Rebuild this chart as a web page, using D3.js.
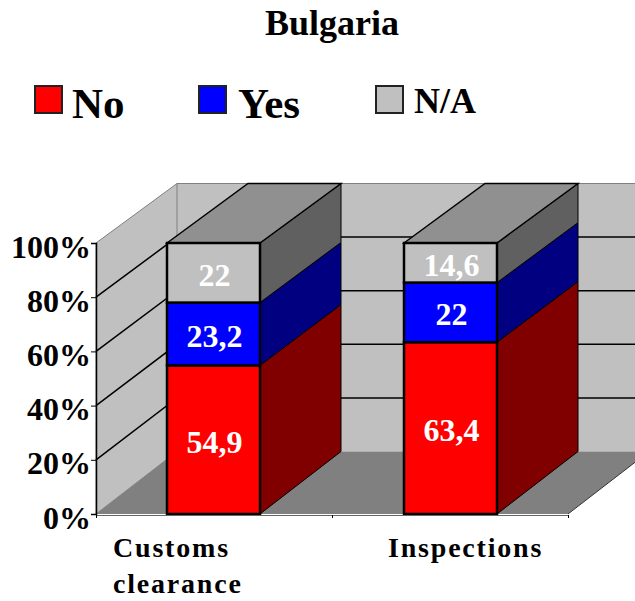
<!DOCTYPE html>
<html>
<head>
<meta charset="utf-8">
<script src="https://cdn.jsdelivr.net/npm/d3@7"></script>
<style>
  body { margin: 0; background: #fff; }
  svg { display: block; }
  text { font-family: "Liberation Serif", serif; font-weight: bold; }
</style>
</head>
<body>
<div id="chart"></div>
<script>
"use strict";

const categories = [["Customs", "clearance"], ["Inspections"]]
const seriesNames = ["No", "Yes", "N/A"]
const noValues = [54.9, 63.4]
const yesValues = [23.2, 22]
const naValues = [22, 14.6]
const yTicks = [0, 20, 40, 60, 80, 100]

const frontColors = ["#ff0000", "#0000ff", "#c0c0c0"]
const sideColors = ["#800000", "#000080", "#606060"]

const width = 635, height = 601

// 3D look: the back wall is shifted up and right from the front plane
const depthX = 81

const svg = d3.select("#chart").append("svg")
  .attr("width", width)
  .attr("height", height)

let xBand = d3.scaleBand().domain(d3.range(categories.length)).range([95, 569])
let barWidth = 93
let yFront = d3.scaleLinear().domain([0, 100]).range([514, 243])
let yBack = d3.scaleLinear().domain([0, 100]).range([451.5, 183.5])

let plotLeft = 96, plotRight = 568
let poly = pts => pts.map(p => p.join(",")).join(" ")

// walls and floor
svg.append("polygon")
  .attr("points", poly([[plotLeft + depthX, yBack(100)], [plotRight + depthX, yBack(100)], [plotRight + depthX, yBack(0)], [plotLeft + depthX, yBack(0)]]))
  .attr("fill", "#c0c0c0")
svg.append("polygon")
  .attr("points", poly([[plotLeft, yFront(100)], [plotLeft + depthX, yBack(100)], [plotLeft + depthX, yBack(0)], [plotLeft, yFront(0)]]))
  .attr("fill", "#c0c0c0")
  .attr("stroke", "#808080")
svg.append("line")
  .attr("x1", plotLeft + depthX).attr("x2", plotRight + depthX)
  .attr("y1", yBack(100)).attr("y2", yBack(100))
  .attr("stroke", "#808080")

// gridlines, left wall then back wall
yTicks.filter(t => t > 0 && t < 100).forEach(t => {
  svg.append("polyline")
    .attr("points", poly([[plotLeft, yFront(t)], [plotLeft + depthX, yBack(t)], [plotRight + depthX, yBack(t)]]))
    .attr("fill", "none")
    .attr("stroke", "#000")
    .attr("stroke-width", 1.5)
})

svg.append("polygon")
  .attr("points", poly([[plotLeft, yFront(0)], [plotLeft + depthX, yBack(0)], [plotRight + depthX, yBack(0)], [plotRight, yFront(0)]]))
  .attr("fill", "#808080")
svg.append("line")
  .attr("x1", plotRight).attr("x2", plotRight + depthX)
  .attr("y1", yFront(0)).attr("y2", yBack(0))
  .attr("stroke", "#333")

// stacked bars
let stacks = categories.map((c, i) => {
  let parts = [noValues[i], yesValues[i], naValues[i]]
  let total = d3.sum(parts)
  let y0 = 0
  // the reference columns are 100% stacked, so rescale the rounded values
  return parts.map((v, s) => {
    let seg = {cat: i, s: s, v: v, y0: y0 / total * 100, y1: (y0 + v) / total * 100}
    y0 += v
    return seg
  })
})

stacks.forEach(segs => {
  let left = xBand(segs[0].cat) + (xBand.bandwidth() - barWidth) / 2
  let right = left + barWidth
  let bar = svg.append("g").attr("class", "bar")

  bar.selectAll(".side").data(segs).enter().append("polygon")
    .attr("class", "side")
    .attr("points", d => poly([[right, yFront(d.y0)], [right + depthX, yBack(d.y0)], [right + depthX, yBack(d.y1)], [right, yFront(d.y1)]]))
    .attr("fill", d => sideColors[d.s])
    .attr("stroke", "#000")
    .attr("stroke-width", 1)

  bar.append("polygon")
    .attr("points", poly([[left, yFront(100)], [left + depthX, yBack(100)], [right + depthX, yBack(100)], [right, yFront(100)]]))
    .attr("fill", "#909090")
    .attr("stroke", "#000")
    .attr("stroke-width", 1.5)

  bar.selectAll(".front").data(segs).enter().append("rect")
    .attr("class", "front")
    .attr("x", left)
    .attr("width", barWidth)
    .attr("y", d => yFront(d.y1))
    .attr("height", d => yFront(d.y0) - yFront(d.y1))
    .attr("fill", d => frontColors[d.s])
    .attr("stroke", "#000")
    .attr("stroke-width", 2.5)

  bar.selectAll(".value").data(segs).enter().append("text")
    .attr("class", "value")
    .attr("x", left + barWidth / 2 + 1)
    .attr("y", d => yFront((d.y0 + d.y1) / 2) + 13)
    .attr("text-anchor", "middle")
    .attr("font-size", 32)
    .attr("fill", "#fff")
    .text(d => String(d.v).replace(".", ","))
})

// y axis
let yAxis = d3.axisLeft(yFront)
  .tickValues(yTicks)
  .tickFormat(d => d + "%")
  .tickSize(5)
  .tickPadding(0)
let yG = svg.append("g")
  .attr("transform", `translate(${plotLeft},0)`)
  .call(yAxis)
yG.select(".domain").attr("stroke", "#000").attr("stroke-width", 1.5)
yG.selectAll("text").attr("font-size", 32).attr("fill", "#000").attr("dy", "14px")

// x axis
let xAxis = d3.axisBottom(d3.scaleLinear().domain([0, 2]).range([plotLeft, plotRight]))
  .tickValues([0, 1, 2])
  .tickFormat("")
  .tickSize(3)
let xG = svg.append("g")
  .attr("transform", `translate(0,${yFront(0) + 1})`)
  .call(xAxis)
xG.select(".domain").attr("stroke", "#666")

// category labels
let categoryX = [113, 388]
categories.forEach((lines, i) => {
  lines.forEach((line, k) => {
    svg.append("text")
      .attr("x", categoryX[i])
      .attr("y", 557 + k * 36)
      .attr("font-size", 28)
      .attr("letter-spacing", 1.8)
      .text(line)
  })
})

// title
svg.append("text")
  .attr("x", 332)
  .attr("y", 35)
  .attr("text-anchor", "middle")
  .attr("font-size", 36)
  .text("Bulgaria")

// legend, the three entries are not aligned the same in the reference
let legendX = [35, 199, 376]
let legendTextX = [72, 238, 414]
let legendFont = [43, 43, 36]
let legendBase = [118, 118, 113]
seriesNames.forEach((name, i) => {
  svg.append("rect")
    .attr("x", legendX[i])
    .attr("y", 86)
    .attr("width", 27)
    .attr("height", 27)
    .attr("fill", frontColors[i])
    .attr("stroke", "#222")
    .attr("stroke-width", 2)
  svg.append("text")
    .attr("x", legendTextX[i])
    .attr("y", legendBase[i])
    .attr("font-size", legendFont[i])
    .text(name)
})
</script>
</body>
</html>
